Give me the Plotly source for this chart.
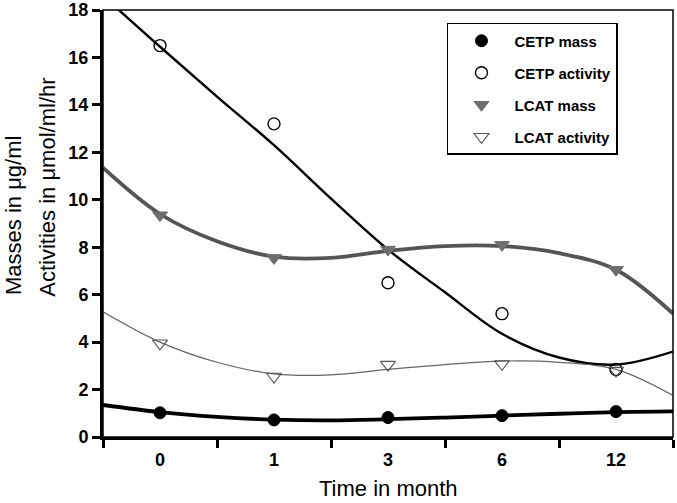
import plotly.graph_objects as go

# Categories (time in month), equally spaced on the axis
months = ["0", "1", "3", "6", "12"]

cetp_mass = [1.02, 0.72, 0.82, 0.9, 1.07]
cetp_activity = [16.5, 13.2, 6.5, 5.2, 2.85]
lcat_mass = [9.35, 7.55, 7.9, 8.1, 7.05]
lcat_activity = [3.95, 2.55, 3.05, 3.08, 2.8]

curve_pos = [-0.5, 0, 0.5, 1, 1.5, 2, 2.5, 3, 3.5, 4, 4.5]
cetp_mass_fit = [1.35, 1.05, 0.85, 0.73, 0.7, 0.75, 0.82, 0.9, 0.98, 1.05, 1.08]
cetp_activity_fit = [18.6, 16.45, 14.35, 12.3, 10.05, 7.9, 6.1, 4.35, 3.35, 3.05, 3.6]
lcat_mass_fit = [11.35, 9.4, 8.25, 7.6, 7.55, 7.85, 8.05, 8.05, 7.75, 7.05, 5.2]
lcat_activity_fit = [5.28, 4.0, 3.15, 2.66, 2.62, 2.85, 3.05, 3.2, 3.15, 2.85, 1.75]

pos = list(range(len(months)))

fig = go.Figure()

# Fitted curves
fig.add_trace(go.Scatter(x=curve_pos, y=cetp_activity_fit, mode="lines", line=dict(color="black", width=2.4, shape="spline"), showlegend=False, hoverinfo="skip"))
fig.add_trace(go.Scatter(x=curve_pos, y=lcat_mass_fit, mode="lines", line=dict(color="#555555", width=3.8, shape="spline"), showlegend=False, hoverinfo="skip"))
fig.add_trace(go.Scatter(x=curve_pos, y=lcat_activity_fit, mode="lines", line=dict(color="#666666", width=1.2, shape="spline"), showlegend=False, hoverinfo="skip"))
fig.add_trace(go.Scatter(x=curve_pos, y=cetp_mass_fit, mode="lines", line=dict(color="black", width=3.8, shape="spline"), showlegend=False, hoverinfo="skip"))

# Data points
fig.add_trace(go.Scatter(x=pos, y=cetp_mass, mode="markers", name="CETP mass", legendgroup="a",
                         marker=dict(symbol="circle", size=12, color="black", line=dict(color="black", width=1))))
fig.add_trace(go.Scatter(x=pos, y=cetp_activity, mode="markers", name="CETP activity", legendgroup="b",
                         marker=dict(symbol="circle-open", size=12, color="black", line=dict(width=1.4))))
fig.add_trace(go.Scatter(x=pos, y=lcat_mass, mode="markers", name="LCAT mass", legendgroup="c",
                         marker=dict(symbol="triangle-down", size=13, color="#6e6e6e", line=dict(color="#6e6e6e", width=1))))
fig.add_trace(go.Scatter(x=pos, y=lcat_activity, mode="markers", name="LCAT activity", legendgroup="d",
                         marker=dict(symbol="triangle-down-open", size=13, color="#555555", line=dict(width=1.1))))

font_family = "Liberation Sans, Arial, sans-serif"

fig.update_layout(
    width=677, height=503,
    margin=dict(l=103, r=4, t=10, b=66, autoexpand=False),
    paper_bgcolor="white", plot_bgcolor="white",
    font=dict(family=font_family, color="black", size=16),
    showlegend=True,
    legend=dict(
        x=0.6035, y=0.9696, xanchor="left", yanchor="top",
        bordercolor="black", borderwidth=1.5, bgcolor="white",
        font=dict(family=font_family, size=15, color="black", weight="bold"),
        tracegroupgap=9.5, traceorder="grouped",
        itemwidth=56,
    ),
    xaxis=dict(
        range=[-0.5, 4.5], tickvals=pos, ticktext=months,
        ticks="", showgrid=False, zeroline=False, automargin=False,
        showline=True, linecolor="black", linewidth=3,
        tickfont=dict(size=18, weight="bold"), ticklabelstandoff=4,
        minor=dict(tick0=-0.5, dtick=1, ticks="outside", ticklen=8, tickwidth=2.5, tickcolor="black", showgrid=False),
    ),
    yaxis=dict(
        range=[0, 18], tickvals=list(range(0, 19, 2)),
        ticks="outside", ticklen=8, tickwidth=2.5, tickcolor="black",
        showgrid=False, zeroline=False, automargin=False,
        showline=True, linecolor="black", linewidth=3,
        tickfont=dict(size=18, weight="bold"),
    ),
    shapes=[dict(type="rect", xref="paper", yref="paper", x0=0, y0=0, x1=1, y1=1,
                 line=dict(color="black", width=1.5), layer="above")],
    annotations=[
        dict(text="Masses in μg/ml", textangle=-90, xref="paper", yref="paper",
             x=-0.157, y=0.328, xanchor="center", yanchor="bottom", showarrow=False,
             font=dict(size=22, family=font_family)),
        dict(text="Activities in μmol/ml/hr", textangle=-90, xref="paper", yref="paper",
             x=-0.0965, y=0.325, xanchor="center", yanchor="bottom", showarrow=False,
             font=dict(size=22, family=font_family)),
        dict(text="Time in month", xref="paper", yref="paper",
             x=0.5, y=-0.1546, xanchor="center", yanchor="bottom", showarrow=False,
             font=dict(size=22, family=font_family)),
    ],
)

fig.write_html("out.html", config={"displayModeBar": False},
               post_script="document.body.style.margin='0';document.body.style.overflow='hidden';")
